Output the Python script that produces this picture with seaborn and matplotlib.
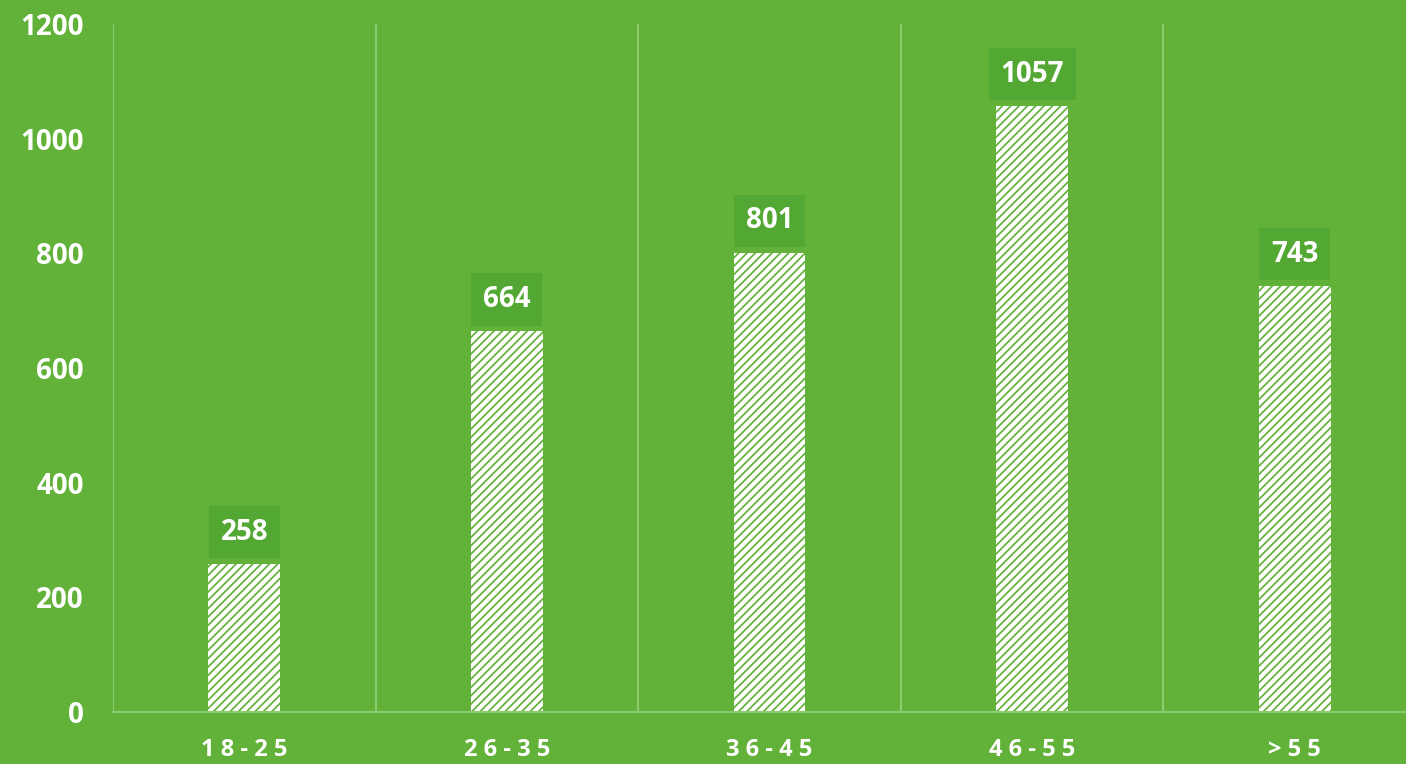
import matplotlib
matplotlib.use("Agg")
import matplotlib.pyplot as plt
import seaborn as sns
import pandas as pd

categories = ["18-25", "26-35", "36-45", "46-55", ">55"]
values = [258, 664, 801, 1057, 743]
yticks = [0, 200, 400, 600, 800, 1000, 1200]

BG = "#62B239"
BOX = "#52A832"
GRID = "#8CCB6E"
HATCH = "#62B239"

sns.set_theme(style="white")
plt.rcParams["font.family"] = ["Open Sans", "DejaVu Sans"]
plt.rcParams["hatch.linewidth"] = 1.25
plt.rcParams["hatch.color"] = HATCH

df = pd.DataFrame({"cat": categories, "val": values})

fig = plt.figure(figsize=(14.06, 7.64), dpi=100, facecolor=BG)
ax = fig.add_axes([113 / 1406, 1 - 712 / 764, 1313 / 1406, (712 - 24) / 764])
ax.set_facecolor(BG)

sns.barplot(data=df, x="cat", y="val", ax=ax, width=0.274, color="white",
            saturation=1, edgecolor=HATCH, linewidth=0)
for p in ax.patches:
    p.set_hatch("////")
    p.set_edgecolor(HATCH)
    p.set_linewidth(0)

ax.set_xlim(-0.5, 4.5)
ax.set_ylim(0, 1200)
ax.set_yticks(yticks)
ax.set_yticklabels([str(v) for v in yticks], fontsize=20, fontweight="bold", color="white")
ax.set_xticks(range(len(categories)))
ax.set_xticklabels([" ".join(list(c)) for c in categories], fontsize=17,
                   fontweight="bold", color="white")
ax.tick_params(axis="y", length=0, pad=21)
ax.tick_params(axis="x", length=0, pad=19)
ax.set_xlabel("")
ax.set_ylabel("")

for s in ["left", "right", "top"]:
    ax.spines[s].set_visible(False)
ax.spines["bottom"].set_color(GRID)
ax.spines["bottom"].set_linewidth(1.5)

for b in range(len(categories)):
    ax.axvline(b - 0.5, color=GRID, lw=1.5, zorder=0)

for i, v in enumerate(values):
    ax.annotate(str(v), xy=(i, v), xytext=(0, 23), textcoords="offset points",
                ha="center", va="center", fontsize=20, fontweight="bold", color="white",
                bbox=dict(boxstyle="square,pad=0.42", fc=BOX, ec="none"))

fig.savefig("out.png", dpi=100, facecolor=BG)
